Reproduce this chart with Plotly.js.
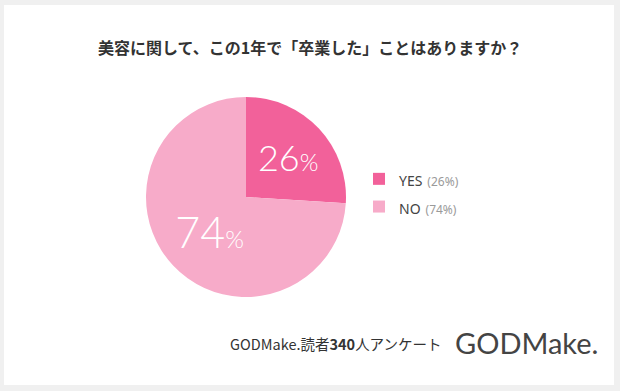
<!DOCTYPE html>
<html><head><meta charset="utf-8">
<script src="https://cdn.plot.ly/plotly-3.0.1.min.js"></script>
<style>html,body{margin:0;padding:0;background:#f0f0f0;}#chart{width:620px;height:391px;}</style>
</head><body><div id="chart"></div>
<script>
const categories = ["YES", "NO"];
const values = [26, 74];
const colors = ["#f2619a", "#f7abc9"];
const titleText = "美容に関して、この1年で「卒業した」ことはありますか？";
const sourceText = "GODMake.読者<b>340</b>人アンケート";
const logoText = "GODMake.";

const legendLabels = categories.map((c, i) =>
  "<span style='font-size:14px'>" + c + "</span> <span style='color:#9a9a9a;font-size:12px'>(" + values[i] + "%)</span>");

const trace = {
  type: "pie",
  labels: legendLabels,
  values: values,
  sort: false,
  direction: "clockwise",
  rotation: 0,
  marker: {colors: colors, line: {width: 0}},
  textinfo: "text",
  text: values.map(v => v + "<span style='font-size:24px'>%</span>"),
  texttemplate: "%{text}",
  textposition: "inside",
  insidetextorientation: "horizontal",
  insidetextfont: {family: "Lato, 'Open Sans', sans-serif", size: [36, 43], color: "#ffffff", weight: 300},
  hoverinfo: "none",
  domain: {x: [146/620, 346/620], y: [94/391, 294/391]}
};

const layout = {
  width: 620, height: 391,
  margin: {l: 0, r: 0, t: 0, b: 0},
  paper_bgcolor: "#f0f0f0",
  showlegend: true,
  legend: {
    x: 359/620, y: 1 - 160/391, xanchor: "left", yanchor: "top",
    font: {family: "'Noto Sans', sans-serif", size: 19, color: "#444"},
    bgcolor: "rgba(0,0,0,0)", itemwidth: 30
  },
  shapes: [{type: "rect", xref: "paper", yref: "paper", x0: 4/620, x1: 614/620, y0: 1 - 385/391, y1: 1 - 5/391,
    fillcolor: "#ffffff", line: {width: 0}, layer: "below"}],
  annotations: [
    {text: "<b>" + titleText + "</b>", xref: "paper", yref: "paper", x: 0.5, y: 1 - 47/391,
     xanchor: "center", yanchor: "middle", showarrow: false,
     font: {family: "'Noto Sans CJK JP', sans-serif", size: 16, color: "#333"}},
    {text: sourceText, xref: "paper", yref: "paper", x: 444/620, y: 1 - 343/391,
     xanchor: "right", yanchor: "middle", showarrow: false,
     font: {family: "'Noto Sans CJK JP', sans-serif", size: 14.5, color: "#333"}},
    {text: logoText, xref: "paper", yref: "paper", x: 453/620, y: 1 - 342/391,
     xanchor: "left", yanchor: "middle", showarrow: false,
     font: {family: "Lato, 'Noto Sans', sans-serif", size: 29, color: "#444"}}
  ]
};

Plotly.newPlot("chart", [trace], layout, {displayModeBar: false, staticPlot: true});
</script></body></html>
